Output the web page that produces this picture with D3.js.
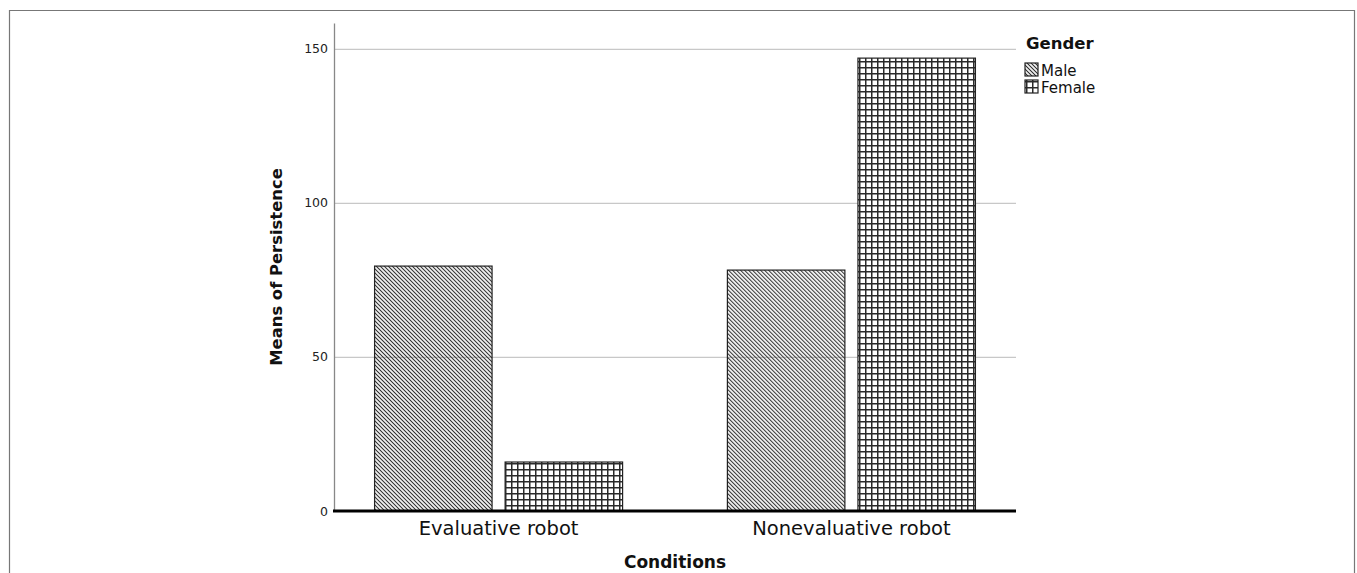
<!DOCTYPE html>
<html>
<head>
<meta charset="utf-8">
<script src="https://cdn.jsdelivr.net/npm/d3@7"></script>
<style>
    body { margin: 0; background: #fff; }
    #chart-area { width: 1357px; height: 573px; }
    text { font-family: "DejaVu Sans", sans-serif; }
</style>
</head>
<body>
<div id="chart-area"></div>
<script>

// chart data
const conditions = ["Evaluative robot", "Nonevaluative robot"];
const genders = ["Male", "Female"];
const maleMeans = [79.5, 78.2];
const femaleMeans = [15.9, 147.0];
const yTicks = [0, 50, 100, 150];
const yMax = 158.4;


class BarVis {

    constructor(parentElement) {
        this.parentElement = parentElement;
        this.initVis();
    }

    initVis() {
        let vis = this;

        vis.width = 1357;
        vis.height = 573;
        vis.plot = {left: 334, right: 1016, top: 23, bottom: 511};

        vis.svg = d3.select("#" + vis.parentElement).append("svg")
            .attr("width", vis.width)
            .attr("height", vis.height);

        // hatch patterns
        let defs = vis.svg.append("defs");

        defs.append("pattern")
            .attr("id", "hatch-male")
            .attr("patternUnits", "userSpaceOnUse")
            .attr("width", 2.83)
            .attr("height", 10)
            .attr("patternTransform", "rotate(-45)")
            .append("line")
            .attr("x1", 1.4).attr("x2", 1.4)
            .attr("y1", 0).attr("y2", 10)
            .attr("stroke", "#333")
            .attr("stroke-width", 1.1);

        let grid = defs.append("pattern")
            .attr("id", "hatch-female")
            .attr("patternUnits", "userSpaceOnUse")
            .attr("width", 6)
            .attr("height", 6)
            .attr("x", 505)
            .attr("y", 511);
        grid.append("rect")
            .attr("width", 6).attr("height", 6)
            .attr("fill", "#fff");
        grid.append("path")
            .attr("d", "M0,0.75H6M0.75,0V6")
            .attr("stroke", "#2a2a2a")
            .attr("stroke-width", 1.5);

        // outer frame
        vis.svg.append("path")
            .attr("d", "M9.5,600V10.5H1354.5V600")
            .attr("fill", "none")
            .attr("stroke", "#777")
            .attr("stroke-width", 1.2);

        vis.x = d3.scaleBand()
            .domain(conditions)
            .range([vis.plot.left, vis.plot.right])
            .paddingInner(0.297)
            .paddingOuter(0.115);

        vis.xSub = d3.scaleBand()
            .domain(genders)
            .range([0, vis.x.bandwidth()])
            .paddingInner(0.1);

        vis.y = d3.scaleLinear()
            .domain([0, yMax])
            .range([vis.plot.bottom, vis.plot.top]);

        vis.wrangleData();
    }

    wrangleData() {
        let vis = this;

        vis.displayData = [];
        conditions.forEach((c, i) => {
            vis.displayData.push({condition: c, gender: "Male", value: maleMeans[i]});
            vis.displayData.push({condition: c, gender: "Female", value: femaleMeans[i]});
        });

        vis.updateVis();
    }

    updateVis() {
        let vis = this;

        // gridlines
        vis.svg.append("g")
            .attr("class", "grid")
            .attr("transform", `translate(${vis.plot.left}, 0)`)
            .call(d3.axisRight(vis.y)
                .tickValues(yTicks.filter(d => d > 0))
                .tickSize(vis.plot.right - vis.plot.left)
                .tickFormat(""))
            .call(g => g.select(".domain").remove())
            .call(g => g.selectAll("line").attr("stroke", "#c8c8c8").attr("stroke-width", 1.2));

        // y axis
        vis.svg.append("g")
            .attr("class", "y-axis")
            .attr("transform", `translate(${vis.plot.left}, 0)`)
            .call(d3.axisLeft(vis.y).tickValues(yTicks).tickSize(0).tickPadding(6))
            .call(g => g.select(".domain")
                .attr("stroke", "#888")
                .attr("stroke-width", 1.3))
            .call(g => g.selectAll("text")
                .attr("font-size", 12.5)
                .attr("fill", "#222"));

        // bars
        vis.svg.append("g")
            .selectAll("rect")
            .data(vis.displayData)
            .enter()
            .append("rect")
            .attr("x", d => vis.x(d.condition) + vis.xSub(d.gender))
            .attr("y", d => vis.y(d.value))
            .attr("width", vis.xSub.bandwidth())
            .attr("height", d => vis.y(0) - vis.y(d.value))
            .attr("fill", d => d.gender === "Male" ? "url(#hatch-male)" : "url(#hatch-female)")
            .attr("stroke", "#222")
            .attr("stroke-width", 1.2);

        // baseline
        vis.svg.append("line")
            .attr("x1", vis.plot.left - 1)
            .attr("x2", vis.plot.right)
            .attr("y1", vis.y(0))
            .attr("y2", vis.y(0))
            .attr("stroke", "#000")
            .attr("stroke-width", 3.2);

        // x axis labels
        vis.svg.append("g")
            .attr("class", "x-axis")
            .attr("transform", `translate(0, ${vis.plot.bottom + 1})`)
            .call(d3.axisBottom(vis.x).tickSize(0).tickPadding(9))
            .call(g => g.select(".domain").remove())
            .call(g => g.selectAll("text")
                .attr("font-size", 19.5)
                .attr("fill", "#111"));

        // axis titles
        vis.svg.append("text")
            .attr("transform", `translate(282, ${(vis.plot.top + vis.plot.bottom) / 2}) rotate(-90)`)
            .attr("text-anchor", "middle")
            .attr("font-size", 16.4)
            .attr("font-weight", "bold")
            .attr("fill", "#111")
            .text("Means of Persistence");

        vis.svg.append("text")
            .attr("x", (vis.plot.left + vis.plot.right) / 2)
            .attr("y", 568)
            .attr("text-anchor", "middle")
            .attr("font-size", 17)
            .attr("font-weight", "bold")
            .attr("fill", "#111")
            .text("Conditions");

        // legend
        vis.legend = vis.svg.append("g")
            .attr("class", "legend")
            .attr("transform", "translate(1025, 0)");

        vis.legend.append("text")
            .attr("x", 1)
            .attr("y", 49)
            .attr("font-size", 16.5)
            .attr("font-weight", "bold")
            .attr("fill", "#111")
            .text("Gender");

        let items = vis.legend.selectAll(".legend-item")
            .data(genders)
            .enter()
            .append("g")
            .attr("class", "legend-item")
            .attr("transform", (d, i) => `translate(0, ${63 + i * 17})`);

        items.append("rect")
            .attr("width", 13)
            .attr("height", 13)
            .attr("fill", d => d === "Male" ? "url(#hatch-male)" : "url(#hatch-female)")
            .attr("stroke", "#222")
            .attr("stroke-width", 1.2);

        items.append("text")
            .attr("x", 16)
            .attr("y", 12.5)
            .attr("font-size", 15)
            .attr("fill", "#111")
            .text(d => d);
    }
}

new BarVis("chart-area");
</script>
</body>
</html>
